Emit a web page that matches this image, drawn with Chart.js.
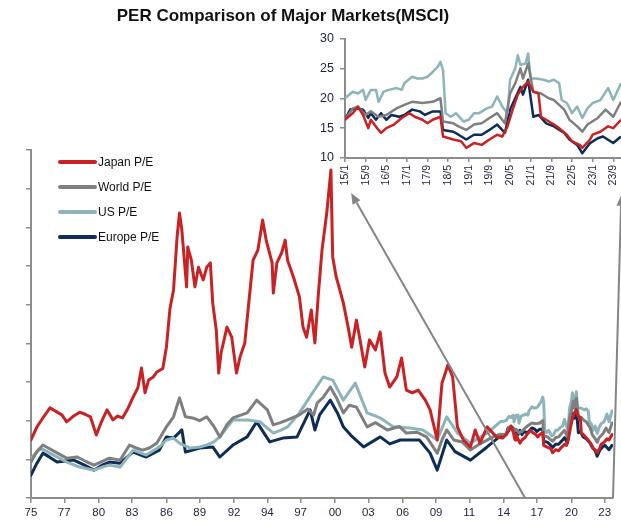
<!DOCTYPE html>
<html>
<head>
<meta charset="utf-8">
<script src="https://cdn.jsdelivr.net/npm/chart.js@4.4.1/dist/chart.umd.min.js"></script>
<style>
  html, body { margin: 0; padding: 0; background: #fff; overflow: hidden; }
  #wrap { position: relative; width: 621px; height: 524px; overflow: hidden; }
  #mainChart { position: absolute; left: 0; top: 0; }
  #insetChart { position: absolute; left: 300px; top: 25px; }
</style>
</head>
<body>
<div id="wrap">
  <canvas id="mainChart" width="621" height="524"></canvas>
  <canvas id="insetChart" width="330" height="175"></canvas>
</div>
<script>
// ---- main chart, 1975 - 2014 (decimal years) ----
const jpHistYr = [1975.0,1975.5,1976.0,1976.6,1977.2,1977.6,1978.0,1978.5,1979.1,1979.6,
  1980.0,1980.5,1980.9,1981.4,1981.9,1982.3,1982.7,1983.1,1983.6,1984.0,
  1984.3,1984.6,1984.9,1985.3,1985.6,1986.1,1986.4,1986.7,1987.0,1987.3,
  1987.5,1987.7,1988.0,1988.1,1988.2,1988.5,1988.8,1989.1,1989.5,1989.8,
  1990.1,1990.3,1990.6,1990.8,1991.0,1991.5,1991.9,1992.3,1992.6,1993.0,
  1993.3,1993.7,1994.1,1994.5,1994.8,1995.3,1995.4,1995.7,1996.1,1996.4,
  1996.6,1997.1,1997.6,1997.9,1998.2,1998.6,1998.9,1999.2,1999.5,1999.9,
  2000.25,2000.4,2000.7,2001.0,2001.3,2001.7,2002.0,2002.4,2002.7,2003.1,
  2003.5,2004.0,2004.4,2004.8,2005.2,2005.8,2006.2,2006.6,2007.1,2007.6,
  2008.2,2008.6,2009.2,2009.6,2010.1,2010.5,2010.9,2011.4,2012.0,2012.4,
  2012.8,2013.4,2014.2,2014.7];
const jpHistPE = [15.0,18.4,20.7,23.3,22.2,21.5,19.7,21.0,22.2,21.6,
  21.0,16.3,19.5,22.8,20.2,21.2,20.7,22.8,26.1,28.5,
  33.6,27.2,30.5,31.3,32.6,33.5,39,49,53.8,67.5,
  73.7,69.3,58.2,54.6,64.9,61.5,54.6,59.7,56.4,59.7,
  60.8,50.4,43.4,32.3,37.5,44.2,41.6,32.3,36.5,40.1,
  49.4,61.5,64.1,71.9,66.7,60.8,53,60.8,63.4,66.7,
  61.5,57.1,52,44.2,41.6,48.6,40.1,53,64.1,73.7,
  84.8,62.3,57.1,53.8,50.4,44.2,39,46,40.9,33.9,
  40.9,38.3,42.9,32.3,28.7,31.3,36.2,27.9,27.2,27.9,
  25.3,22.8,15,29.7,34.4,31.3,18.4,15,13.2,17.6,
  14.2,18.4,15.8,15.5];

const wdHistYr = [1975.0,1975.5,1976.0,1977.0,1978.0,1978.9,1979.6,1980.3,1981.0,1981.6,
  1982.5,1983.3,1983.8,1984.4,1985.0,1985.6,1986.4,1987.0,1987.5,1988.0,
  1988.6,1989.2,1989.8,1990.4,1990.9,1991.5,1992.0,1993.2,1994.0,1994.9,
  1995.4,1996.0,1996.6,1997.6,1998.3,1998.8,1999.1,1999.6,2000.2,2000.7,
  2001.3,2001.8,2002.4,2003.3,2004.0,2005.0,2006.0,2006.6,2007.5,2008.3,
  2009.2,2009.6,2010.0,2010.6,2011.3,2012.0,2012.8,2013.9,2014.5];
const wdHistPE = [9.3,12.0,13.7,12.0,10.3,10.6,9.5,8.5,9.5,10.3,
  9.8,13.7,13.0,12.4,13.0,14.2,18.4,21.0,25.9,21,
  20.7,20.0,21,18.5,15.8,19.0,20.7,22,25.3,22.8,
  18.9,19.5,20.2,21.5,23.0,21.5,24.6,26.0,28.7,26.0,
  22,24.0,23.5,18.4,19.5,17.6,18.5,16.8,17.0,15.8,
  11.6,15.0,17.6,15.0,14.5,12.4,14.0,15.8,16.5];

const usHistYr = [1975.0,1975.8,1976.9,1978.0,1979.1,1980.3,1981.0,1981.6,1982.5,1983.6,
  1984.7,1985.8,1986.4,1987.0,1987.5,1988.4,1989.2,1989.8,1990.4,1990.9,
  1992.0,1993.2,1994.3,1995.4,1996.0,1996.6,1997.6,1998.7,1999.6,2000.4,
  2001.3,2002.3,2003.3,2004.4,2005.5,2006.9,2008.0,2009.2,2010.0,2010.9,
  2012.0,2013.4,2014.5];
const usHistPE = [10.3,12.9,11.1,9.3,8.0,7.2,8.0,8.5,8.0,12.4,
  11.1,13.2,15,15.5,14.2,12.9,13.2,13.7,14.5,15.8,
  20.2,20.2,19.7,16.8,17.5,18.4,22,27.2,31.3,30.5,
  25.3,29.7,22,20.7,18.4,18.1,17.6,15,21,16.8,
  14.2,16.8,19.7];

const euHistYr = [1975.0,1975.5,1976.0,1976.6,1977.2,1978.6,1979.5,1980.3,1981.0,1981.6,
  1982.5,1983.6,1984.7,1985.8,1986.4,1987.0,1987.7,1988.0,1989.2,1990.3,
  1990.9,1992.0,1993.2,1994.0,1995.1,1996.2,1997.4,1998.5,1998.9,1999.3,
  2000.2,2000.8,2001.3,2002.0,2003.0,2004.4,2005.2,2006.1,2007.7,2008.6,
  2009.2,2010.0,2010.7,2012.0,2013.4,2014.5];
const euHistPE = [5.9,9.0,11.6,10.5,9.3,9.8,8.5,7.2,8.5,9.3,
  9.0,11.9,10.6,12.4,15.8,15.5,17.6,11.9,12.9,13.2,
  10.6,13.7,15.8,19.7,14.5,15.5,15.8,22.8,17.6,21.5,
  25.3,22.0,18.4,16.0,13.2,15.8,14.0,15,15,11.6,
  7.2,15,12.0,9.8,13.2,16.0];

// ---- inset, 2015/1 - 2023/12 (months after 2015/1) ----
const jpMonth = [0,3,5,7,9,10,13,14,16,19,22,25,27,30,32,34,37,38,42,45,
  47,50,53,56,59,61,63,65,67,69,71,73,75,76,78,81,83,86,88,91,92,95,96,99,102,104,107];
const jpPE = [16.4,17.5,18.6,17.2,15,16.4,14.7,14.2,15,15.6,16.7,17.5,16.9,16.4,15.8,16.4,16.9,13.6,13.1,12.8,
  11.7,12.5,12.2,13.1,13.9,13.6,15.3,18.1,20.6,21.9,22.8,21.1,20.8,16.9,16.4,15.6,15,13.9,12.8,12.2,11.7,13.1,13.9,14.4,15.3,15,16.4];

const wdMonth = [0,3,5,8,10,13,16,20,23,26,30,34,37,38,42,44,47,50,53,56,
  59,62,64,66,68,69,71,73,76,79,81,85,87,90,92,94,98,101,104,107];
const wdPE = [16.4,18.3,18.6,17.2,17.8,16.9,17.2,18.3,18.9,19.4,19.2,19.4,20,16.1,15.8,15.3,14.7,15.6,15.8,16.7,
  17.5,15.8,20.8,22.5,25,23.3,25.8,21.1,20.8,20,19.7,18.1,16.4,15.3,14.4,15.6,16.7,18.1,16.9,19.4];

const usMonth = [0,3,5,7,8,10,12,13,15,17,20,22,23,26,28,30,32,34,36,37,
  38,39,41,43,46,48,50,52,55,57,59,61,63,64,66,67,68,70,71,72,
  74,77,79,81,83,84,86,88,90,92,94,96,99,102,104,107];
const usPE = [20,21.1,20.8,21.4,19.7,21.4,21.4,19.4,21.1,21.4,21.7,21.4,22.5,23.6,23.3,23.3,23.6,24.4,25.3,26.1,
  24.7,17.5,16.9,17.5,16.1,16.4,17.5,17.5,18.3,18.6,20.3,18.6,17.5,23.1,25,27.2,25.6,25.8,27.5,23.3,
  23.3,23.1,22.8,23.1,22.5,19.7,19.2,17.5,18.6,16.7,18.3,19.2,19.7,21.7,19.7,22.5];

const euMonth = [0,2,5,7,9,10,12,14,16,18,21,23,26,29,31,34,37,38,42,44,
  47,50,53,56,59,62,64,66,68,69,71,73,75,78,81,85,87,90,92,95,98,100,104,107];
const euPE = [16.4,18.1,18.3,18.1,16.7,17.5,16.4,17.5,16.4,17.2,16.9,17.2,18.1,17.8,17.2,17.8,17.8,14.7,14.4,13.9,
  13.1,13.9,13.9,14.7,15.6,14.2,18.1,20,21.9,20.6,23.1,16.9,17.2,15.8,15.3,14.2,13.1,12.2,10.8,12.5,13.3,13.6,12.5,13.6];

// tick labels
const mainTickYears = [1975.0,1977.8,1980.7,1983.5,1986.4,1989.2,1992.1,1994.9,1997.7,
  2000.6,2003.4,2006.3,2009.1,2011.9,2014.8,2017.6,2020.5,2023.3];
const mainTickLabels = ['75','77','80','83','86','89','92','94','97','00','03','06','09','11','14','17','20','23'];
const insetTickMonths = [0,8,16,24,32,40,48,56,64,72,80,88,96,104];
const insetTickLabels = ['15/1','15/9','16/5','17/1','17/9','18/5','19/1','19/9','20/5','21/1','21/9','22/5','23/1','23/9'];

// arrows (zoom lines) in main chart units: [year, P/E]
const arrowFrom = [[2016.6, 0], [2024.0, 0]];
const arrowTo = [[2001.95, 78.9], [2024.7, 78.4]];

const titleText = 'PER Comparison of Major Markets(MSCI)';
const FONT = "'Liberation Sans', Arial, sans-serif";
const AXIS = '#8c8c8c';
const TXT = '#1c2238';

const series = [
  { label: 'Japan P/E', color: '#c92225', yr: jpHistYr, pe: jpHistPE, m: jpMonth, v: jpPE },
  { label: 'World P/E', color: '#7f7f7f', yr: wdHistYr, pe: wdHistPE, m: wdMonth, v: wdPE },
  { label: 'US P/E', color: '#8cb4b9', yr: usHistYr, pe: usHistPE, m: usMonth, v: usPE },
  { label: 'Europe P/E', color: '#0d2d57', yr: euHistYr, pe: euHistPE, m: euMonth, v: euPE }
];

// title sits a bit left of centre, so it is drawn by hand
const topTitle = {
  id: 'topTitle',
  afterDraw(chart) {
    const ctx = chart.ctx;
    ctx.save();
    ctx.fillStyle = '#111';
    ctx.font = 'bold 17px ' + FONT;
    ctx.textAlign = 'center';
    ctx.textBaseline = 'middle';
    ctx.fillText(titleText, 283, 16);
    ctx.restore();
  }
};

// legend drawn to the left inside the plot
const sideLegend = {
  id: 'sideLegend',
  afterDraw(chart) {
    const { ctx, chartArea } = chart;
    ctx.save();
    chart.data.datasets.forEach((ds, i) => {
      const y = chartArea.top + 12 + i * 25;
      const x0 = chartArea.left + 29;
      ctx.strokeStyle = ds.borderColor;
      ctx.lineWidth = 4;
      ctx.lineCap = 'round';
      ctx.beginPath();
      ctx.moveTo(x0, y);
      ctx.lineTo(x0 + 35, y);
      ctx.stroke();
      ctx.fillStyle = '#111';
      ctx.font = '12px ' + FONT;
      ctx.textBaseline = 'middle';
      ctx.fillText(ds.label, x0 + 38, y + 1);
    });
    ctx.restore();
  }
};

// grey lines pointing from the main chart to the inset
const zoomArrows = {
  id: 'zoomArrows',
  afterDatasetsDraw(chart) {
    const { ctx, scales: { x, y } } = chart;
    ctx.save();
    ctx.strokeStyle = '#858585';
    ctx.fillStyle = '#858585';
    ctx.lineWidth = 2;
    arrowFrom.forEach((f, i) => {
      const x1 = x.getPixelForValue(f[0]), y1 = y.getPixelForValue(f[1]);
      const x2 = x.getPixelForValue(arrowTo[i][0]), y2 = y.getPixelForValue(arrowTo[i][1]);
      const a = Math.atan2(y2 - y1, x2 - x1);
      const hl = 11, hw = 4.5;
      const bx = x2 - hl * Math.cos(a), by = y2 - hl * Math.sin(a);
      ctx.beginPath();
      ctx.moveTo(x1, y1);
      ctx.lineTo(bx, by);
      ctx.stroke();
      ctx.beginPath();
      ctx.moveTo(x2, y2);
      ctx.lineTo(bx + hw * Math.sin(a), by - hw * Math.cos(a));
      ctx.lineTo(bx - hw * Math.sin(a), by + hw * Math.cos(a));
      ctx.closePath();
      ctx.fill();
    });
    ctx.restore();
  }
};

new Chart(document.getElementById('mainChart'), {
  type: 'line',
  data: {
    datasets: series.map(s => ({
      label: s.label,
      borderColor: s.color,
      data: s.yr.map((x, i) => ({ x: x, y: s.pe[i] }))
        .concat(s.m.map((m, i) => ({ x: 2015 + m / 12, y: s.v[i] })))
    }))
  },
  options: {
    responsive: false,
    animation: false,
    layout: { padding: { top: 150, right: 8 } },
    elements: {
      point: { radius: 0 },
      line: { tension: 0, borderWidth: 3, borderJoinStyle: 'round', borderCapStyle: 'round' }
    },
    plugins: {
      legend: { display: false },
      tooltip: { enabled: false },
      title: { display: false }
    },
    scales: {
      x: {
        type: 'linear',
        min: 1975,
        max: 2024,
        afterBuildTicks: s => { s.ticks = mainTickYears.map(v => ({ value: v })); },
        afterFit: s => { s.height = 26; },
        ticks: {
          autoSkip: false,
          maxRotation: 0,
          padding: 3,
          color: TXT,
          font: { family: FONT, size: 11.5 },
          callback: (v, i) => mainTickLabels[i]
        },
        grid: { drawOnChartArea: false, tickLength: 5, color: AXIS, lineWidth: 1.5 },
        border: { color: AXIS, width: 2 }
      },
      y: {
        min: 0,
        max: 90,
        afterFit: s => { s.width = 31; },
        ticks: { stepSize: 10, display: false },
        grid: { drawOnChartArea: false, tickLength: 5, color: AXIS, lineWidth: 1.5 },
        border: { color: AXIS, width: 2 }
      }
    }
  },
  plugins: [topTitle, sideLegend, zoomArrows]
});

new Chart(document.getElementById('insetChart'), {
  type: 'line',
  data: {
    datasets: series.map(s => ({
      label: s.label,
      borderColor: s.color,
      data: s.m.map((m, i) => ({ x: m, y: s.v[i] }))
    }))
  },
  options: {
    responsive: false,
    animation: false,
    layout: { padding: { top: 13, right: 9 } },
    elements: {
      point: { radius: 0 },
      line: { tension: 0, borderWidth: 2.5, borderJoinStyle: 'round' }
    },
    plugins: { legend: { display: false }, tooltip: { enabled: false } },
    scales: {
      x: {
        type: 'linear',
        min: 0,
        max: 107,
        afterBuildTicks: s => { s.ticks = insetTickMonths.map(v => ({ value: v })); },
        afterFit: s => { s.height = 42; },
        ticks: {
          autoSkip: false,
          minRotation: 90,
          maxRotation: 90,
          padding: 3,
          color: TXT,
          font: { family: FONT, size: 10.5 },
          callback: (v, i) => insetTickLabels[i]
        },
        grid: { drawOnChartArea: false, tickLength: 4, color: AXIS, lineWidth: 1.5 },
        border: { color: AXIS, width: 2 }
      },
      y: {
        min: 10,
        max: 30,
        afterFit: s => { s.width = 45; },
        ticks: { stepSize: 5, padding: 6, color: TXT, font: { family: FONT, size: 12.5 } },
        grid: { drawOnChartArea: false, tickLength: 5, color: AXIS, lineWidth: 1.5 },
        border: { color: AXIS, width: 2 }
      }
    }
  }
});
</script>
</body>
</html>
